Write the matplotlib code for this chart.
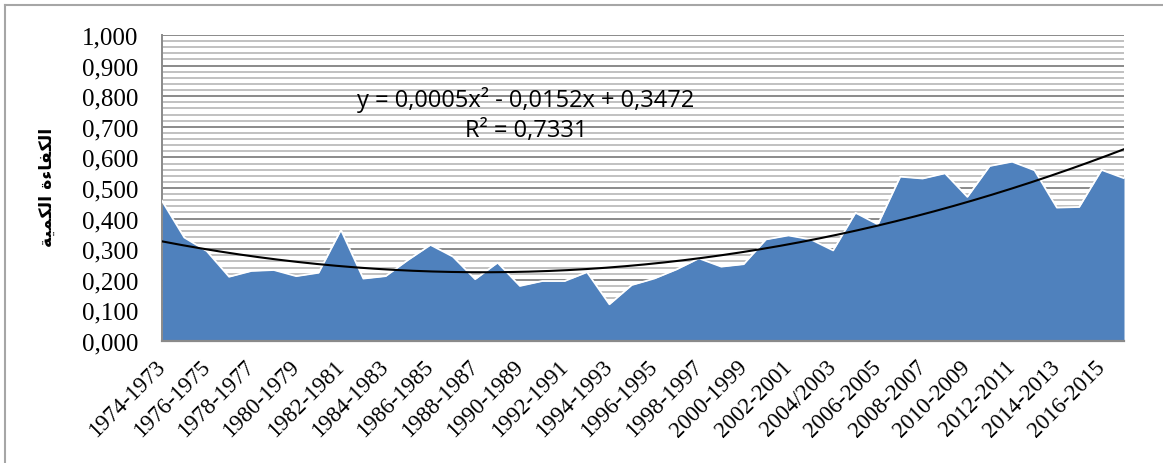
import numpy as np
import matplotlib
matplotlib.use("Agg")
import matplotlib.pyplot as plt
from matplotlib.lines import Line2D

# valeurs (44 périodes, 1973-1974 -> 2016-2017)
efficiency = [0.458, 0.338, 0.294, 0.210, 0.229, 0.232, 0.212, 0.223, 0.363, 0.204,
              0.212, 0.265, 0.314, 0.276, 0.202, 0.256, 0.180, 0.196, 0.196, 0.225,
              0.120, 0.183, 0.204, 0.234, 0.270, 0.243, 0.251, 0.332, 0.345, 0.332,
              0.296, 0.419, 0.381, 0.537, 0.531, 0.548, 0.471, 0.572, 0.586, 0.558,
              0.436, 0.438, 0.559, 0.532]

tick_labels = ["1974-1973", "1976-1975", "1978-1977", "1980-1979", "1982-1981",
               "1984-1983", "1986-1985", "1988-1987", "1990-1989", "1992-1991",
               "1994-1993", "1996-1995", "1998-1997", "2000-1999", "2002-2001",
               "2004/2003", "2006-2005", "2008-2007", "2010-2009", "2012-2011",
               "2014-2013", "2016-2015"]

y_ticks = [0.0, 0.1, 0.2, 0.3, 0.4, 0.5, 0.6, 0.7, 0.8, 0.9, 1.0]

equation = "y = 0,0005x\u00b2 - 0,0152x + 0,3472"
r2_text = "R\u00b2 = 0,7331"

# "الكفاءة الكمية" en formes de présentation, ordre visuel (matplotlib ne fait pas le shaping)
ylabel_ar = "\uFE94\uFEF4\uFEE4\uFEDC\uFEDF\uFE8D \uFE93\uFE80\uFE8E\uFED4\uFEDC\uFEDF\uFE8D"

W, H = 1163, 464
fig = plt.figure(figsize=(W / 100, H / 100), dpi=100)
ax = fig.add_axes([162 / W, 1 - 342 / H, (1124 - 162) / W, (342 - 36) / H])

x = np.arange(len(efficiency))
vals = np.array(efficiency)

# fond hachuré horizontal + grille principale
for yy in np.arange(0.02, 1.0, 0.02):
    if abs(yy * 10 - round(yy * 10)) > 1e-6:
        ax.axhline(yy, color="#bcbcbc", lw=1.3, zorder=0)
for yy in y_ticks[1:]:
    ax.axhline(yy, color="#8a8a8a", lw=1.4, zorder=0)

ax.fill_between(x, vals, 0, color="#4F81BD", lw=0, zorder=2)
ax.plot(x, vals, color="white", lw=1.3, zorder=3)

# courbe de tendance polynomiale (ordre 2)
coef = np.polyfit(x + 1, vals, 2)
xs = np.linspace(0, len(vals) - 1, 300)
ax.plot(xs, np.polyval(coef, xs + 1), color="black", lw=1.5, zorder=4)

ax.set_xlim(0, len(vals) - 1)
ax.set_ylim(0, 1)
ax.set_yticks(y_ticks)
ax.set_yticklabels([f"{v:.3f}".replace(".", ",") for v in y_ticks],
                   fontfamily="Liberation Serif", fontsize=18)
ax.set_xticks(x[::2])
ax.set_xticklabels(tick_labels, rotation=45, ha="right", va="center",
                   rotation_mode="anchor", fontfamily="Liberation Serif", fontsize=16.5)
ax.tick_params(axis="y", length=0, pad=17)
ax.tick_params(axis="x", length=0, pad=16)

for s in ["top", "right"]:
    ax.spines[s].set_visible(False)
ax.spines["left"].set_color("#8a8a8a")
ax.spines["bottom"].set_color("#8a8a8a")
ax.spines["left"].set_linewidth(1.4)
ax.spines["bottom"].set_linewidth(1.6)

ax.text(0.3783, 0.79, equation, transform=ax.transAxes, ha="center", va="center",
        fontfamily="Open Sans", fontsize=17, zorder=5)
ax.text(0.3783, 0.69, r2_text, transform=ax.transAxes, ha="center", va="center",
        fontfamily="Open Sans", fontsize=17, zorder=5)

fig.text(47 / W, 1 - 187 / H, ylabel_ar, rotation=90, ha="center", va="center",
         fontfamily="DejaVu Sans", fontweight="bold", fontsize=12.5)

# cadre extérieur (haut et gauche)
fig.add_artist(Line2D([5 / W, 5 / W], [0, 1 - 6 / H], transform=fig.transFigure,
                      color="#a6a6a6", lw=1.5))
fig.add_artist(Line2D([5 / W, 1], [1 - 6 / H, 1 - 6 / H], transform=fig.transFigure,
                      color="#a6a6a6", lw=1.5))

fig.savefig("out.png", dpi=100, facecolor="white")
